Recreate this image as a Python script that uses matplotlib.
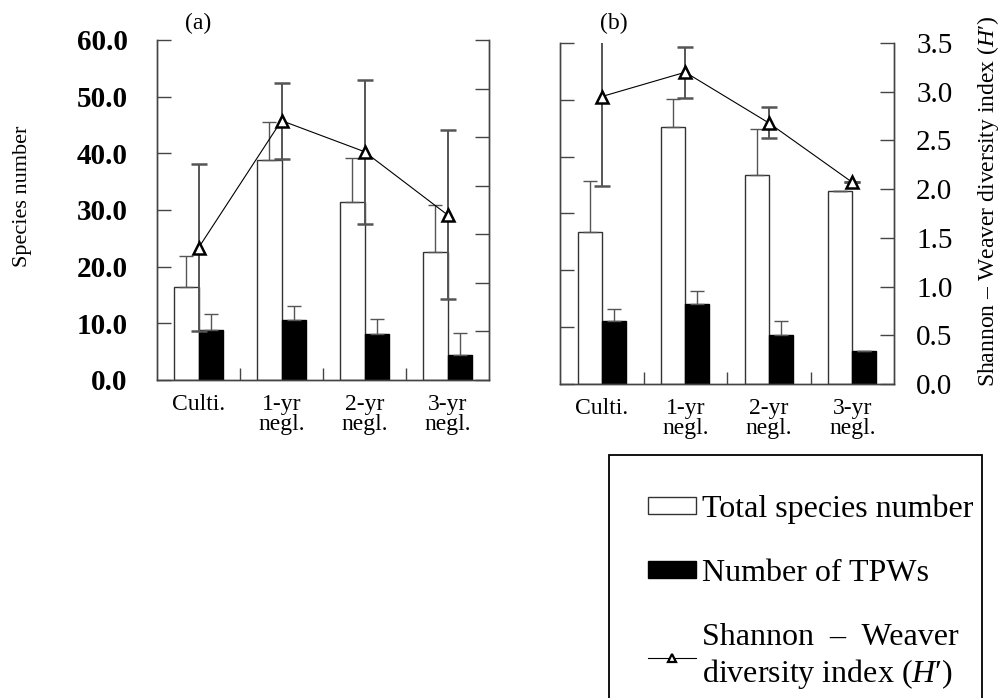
import numpy as np
import matplotlib
matplotlib.use("Agg")
import matplotlib.pyplot as plt
from matplotlib.patches import Rectangle, Patch
from matplotlib.lines import Line2D

plt.rcParams['font.family'] = ['Liberation Serif', 'DejaVu Serif']
plt.rcParams['mathtext.fontset'] = 'custom'
plt.rcParams['mathtext.rm'] = 'Liberation Serif'
plt.rcParams['mathtext.it'] = 'Liberation Serif:italic'

categories = ["Culti.", "1-yr\nnegl.", "2-yr\nnegl.", "3-yr\nnegl."]

# panel (a)
a_total = [16.4, 38.8, 31.4, 22.6]
a_total_err = [5.5, 6.7, 7.8, 8.3]
a_tpw = [8.8, 10.6, 8.1, 4.4]
a_tpw_err = [2.8, 2.4, 2.7, 3.9]
a_h = [1.36, 2.67, 2.35, 1.70]
a_h_err_lo = [0.86, 0.39, 0.74, 0.87]
a_h_err_hi = [0.86, 0.39, 0.74, 0.87]

# panel (b)
b_total = [26.7, 45.2, 36.8, 33.9]
b_total_err = [9.0, 4.9, 8.1, 0.0]
b_tpw = [11.1, 14.1, 8.6, 5.8]
b_tpw_err = [2.1, 2.3, 2.5, 0.0]
b_h = [2.95, 3.20, 2.68, 2.07]
b_h_err_lo = [0.92, 0.26, 0.16, 0.0]
b_h_err_hi = [0.62, 0.26, 0.16, 0.0]

species_ticks = np.arange(0, 61, 10)
h_ticks = np.arange(0, 3.51, 0.5)

AX_COL = '#444444'
ERR_COL = '#555555'
BAR_W = 0.29


def draw_panel(rect, total, total_err, tpw, tpw_err, h, h_lo, h_hi,
               left_labels, right_labels):
    ax = fig.add_axes(rect)
    x = np.arange(len(categories))
    zeros = np.zeros(len(x))
    ax.bar(x - BAR_W / 2, total, BAR_W, color='white', edgecolor='#333333',
           linewidth=1.0, yerr=[zeros, total_err], ecolor=ERR_COL,
           error_kw=dict(elinewidth=1.0, capsize=5, capthick=1.0))
    ax.bar(x + BAR_W / 2, tpw, BAR_W, color='black', edgecolor='black',
           linewidth=1.0, yerr=[zeros, tpw_err], ecolor=ERR_COL,
           error_kw=dict(elinewidth=1.0, capsize=5, capthick=1.0))
    ax.set_xlim(-0.5, len(x) - 0.5)
    ax.set_ylim(0, 60)
    ax.set_yticks(species_ticks)
    ax.set_xticks(x)
    ax.set_xticklabels(categories, fontsize=17, linespacing=0.95)
    ax.set_xticks(x[:-1] + 0.5, minor=True)
    ax.tick_params(axis='x', which='major', length=0, pad=10)
    ax.tick_params(axis='x', which='minor', direction='in', length=9,
                   width=1.0, color=AX_COL)
    ax.tick_params(axis='y', direction='in', length=10, width=1.0,
                   color=AX_COL, pad=21, labelsize=21)
    if left_labels:
        ax.set_yticklabels([f"{v:.1f}" for v in species_ticks],
                           fontweight='bold')
    else:
        ax.set_yticklabels([])
    for s in ['left', 'right', 'bottom']:
        ax.spines[s].set_color(AX_COL)
        ax.spines[s].set_linewidth(1.0)
    ax.spines['top'].set_visible(False)

    ax2 = ax.twinx()
    ax2.errorbar(x, h, yerr=[h_lo, h_hi], fmt='-^', color='black', lw=0.8,
                 ms=8, mfc='white', mec='black', mew=1.8, ecolor=ERR_COL,
                 elinewidth=1.4, capsize=6, capthick=1.2, zorder=5)
    ax2.set_ylim(0, 3.5)
    ax2.set_yticks(h_ticks)
    ax2.tick_params(axis='y', direction='in', length=10, width=1.0,
                    color=AX_COL, pad=16, labelsize=21)
    if right_labels:
        ax2.set_yticklabels([f"{v:.1f}" for v in h_ticks])
    else:
        ax2.set_yticklabels([])
    for s in ['left', 'right', 'bottom']:
        ax2.spines[s].set_color(AX_COL)
        ax2.spines[s].set_linewidth(1.0)
    ax2.spines['top'].set_visible(False)
    return ax, ax2


fig = plt.figure(figsize=(10, 6.98), dpi=100)

axa, axa2 = draw_panel([0.157, 0.4556, 0.332, 0.4871], a_total, a_total_err,
                       a_tpw, a_tpw_err, a_h, a_h_err_lo, a_h_err_hi,
                       True, False)
axb, axb2 = draw_panel([0.560, 0.4499, 0.334, 0.4885], b_total, b_total_err,
                       b_tpw, b_tpw_err, b_h, b_h_err_lo, b_h_err_hi,
                       False, True)

axa.set_ylabel("Species number", fontsize=16)
axa.yaxis.set_label_coords(-0.3765, 0.541)
axb2.set_ylabel("Shannon – Weaver diversity index ($\\it{H}$′)", fontsize=17,
                rotation=90)
axb2.yaxis.set_label_coords(1.2425, 0.537)

fig.text(0.198, 0.967, "(a)", fontsize=17, ha='center', va='center')
fig.text(0.614, 0.967, "(b)", fontsize=17, ha='center', va='center')

# legend frame (runs off the bottom of the page)
fig.patches.append(Rectangle((0.609, -0.02), 0.373, 0.368, transform=fig.transFigure,
                             fill=False, edgecolor='black', linewidth=1.3))

handles = [
    Patch(facecolor='white', edgecolor='#333333', linewidth=1.0),
    Patch(facecolor='black', edgecolor='black'),
    Line2D([0], [0], color='black', lw=0.8, marker='^', ms=6, mfc='white',
           mec='black', mew=1.6),
]
labels = ["Total species number", "Number of TPWs",
          "Shannon  –  Weaver\ndiversity index ($\\it{H}$′)"]
fig.legend(handles, labels, loc='upper left', bbox_to_anchor=(0.648, 0.292),
           frameon=False, fontsize=23, handlelength=1.5, handleheight=0.45,
           handletextpad=0.2, labelspacing=1.1, borderpad=0, borderaxespad=0)

fig.savefig("out.png", dpi=100)
